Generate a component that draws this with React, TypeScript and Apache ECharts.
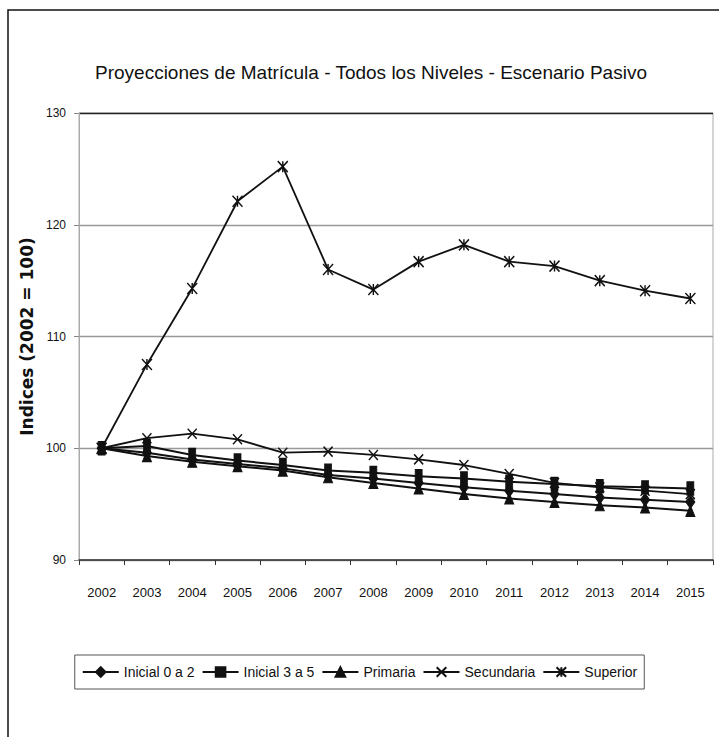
import React, { useEffect, useRef } from "react";
import * as echarts from "echarts";

const years = ["2002","2003","2004","2005","2006","2007","2008","2009","2010","2011","2012","2013","2014","2015"];
const inicial02 = [100, 99.6, 99.0, 98.6, 98.2, 97.6, 97.3, 96.9, 96.5, 96.2, 95.9, 95.6, 95.4, 95.2];
const inicial35 = [100, 100.2, 99.4, 98.9, 98.5, 98.0, 97.8, 97.5, 97.3, 97.0, 96.8, 96.6, 96.5, 96.4];
const primaria = [100, 99.3, 98.8, 98.4, 98.0, 97.4, 96.9, 96.4, 95.9, 95.5, 95.2, 94.9, 94.7, 94.4];
const secundaria = [100, 100.9, 101.3, 100.8, 99.6, 99.7, 99.4, 99.0, 98.5, 97.7, 96.9, 96.5, 96.2, 95.9];
const superior = [100, 107.5, 114.3, 122.1, 125.2, 116.0, 114.2, 116.7, 118.2, 116.7, 116.3, 115.0, 114.1, 113.4];
const yTicks = { min: 90, max: 130, interval: 10 };

const NARROW = '"Liberation Sans Narrow", "Arial Narrow", "Liberation Sans", sans-serif';

export default function App() {
  const ref = useRef<HTMLDivElement>(null);
  useEffect(() => {
    if (!ref.current) return;
    const chart = echarts.init(ref.current, null, { renderer: "svg" });
    const mk = (name: string, data: number[], symbol: string, size: any, extra: any = {}) => ({
      name,
      type: "line",
      data,
      symbol,
      symbolSize: size,
      showSymbol: true,
      lineStyle: { color: "#111", width: 2 },
      itemStyle: { color: "#111", borderColor: "#111", borderWidth: 1 },
      emphasis: { disabled: true },
      ...extra,
    });
    chart.setOption({
      animation: false,
      backgroundColor: "#fff",
      title: {
        text: "Proyecciones de Matrícula - Todos los Niveles - Escenario Pasivo",
        left: 90,
        top: 58,
        textStyle: { fontFamily: NARROW, fontSize: 19, fontWeight: "normal", color: "#111" },
      },
      graphic: [
        {
          type: "rect",
          shape: { x: 8, y: 10, width: 900, height: 900 },
          style: { fill: "none", stroke: "#111", lineWidth: 1.5 },
          silent: true,
        },
      ],
      grid: { left: 79, right: 6, top: 113, bottom: 177, show: true, borderColor: "#aaa", borderWidth: 1, backgroundColor: "transparent" },
      legend: {
        left: "center",
        top: 655,
        itemWidth: 36,
        itemHeight: 12,
        itemGap: 7,
        padding: [10, 7, 10, 7],
        borderColor: "#555",
        borderWidth: 1,
        textStyle: { fontFamily: NARROW, fontSize: 14, color: "#111" },
        data: ["Inicial 0 a 2", "Inicial 3 a 5", "Primaria", "Secundaria", "Superior"],
      },
      xAxis: {
        type: "category",
        data: years,
        boundaryGap: true,
        axisLine: { lineStyle: { color: "#333", width: 1.5 } },
        axisTick: { show: true, length: 5, lineStyle: { color: "#333" } },
        axisLabel: { fontFamily: NARROW, fontSize: 13, color: "#111", margin: 26 },
      },
      yAxis: {
        type: "value",
        min: yTicks.min,
        max: yTicks.max,
        interval: yTicks.interval,
        name: "Indices (2002 = 100)",
        nameLocation: "middle",
        nameGap: 42,
        nameTextStyle: { fontFamily: '"DejaVu Sans", sans-serif', fontWeight: "bold", fontSize: 17, color: "#111" },
        axisLine: { show: true, lineStyle: { color: "#aaa" } },
        axisTick: { show: true, length: 5, lineStyle: { color: "#888" } },
        axisLabel: { fontFamily: NARROW, fontSize: 12, color: "#111", margin: 13 },
        splitLine: { show: true, lineStyle: { color: ["#999", "#999", "#999", "#999", "#222"], width: 1.3 } },
      },
      series: [
        mk("Inicial 0 a 2", inicial02, "diamond", [9, 13]),
        mk("Inicial 3 a 5", inicial35, "rect", [7, 13]),
        mk("Primaria", primaria, "triangle", [9, 11]),
        mk("Secundaria", secundaria, "path://M0,0L10,10M10,0L0,10", [9, 10], {
          lineStyle: { color: "#111", width: 1.8 },
          itemStyle: { color: "#111", borderColor: "#111", borderWidth: 1.5 },
        }),
        mk("Superior", superior, "path://M0,0L10,10M10,0L0,10M5,0L5,10", [10, 11], {
          lineStyle: { color: "#111", width: 1.8 },
          itemStyle: { color: "#111", borderColor: "#111", borderWidth: 1.5 },
        }),
      ],
    });
    return () => chart.dispose();
  }, []);
  return <div ref={ref} style={{ position: "fixed", left: 0, top: 0, width: 719, height: 737 }} />;
}
